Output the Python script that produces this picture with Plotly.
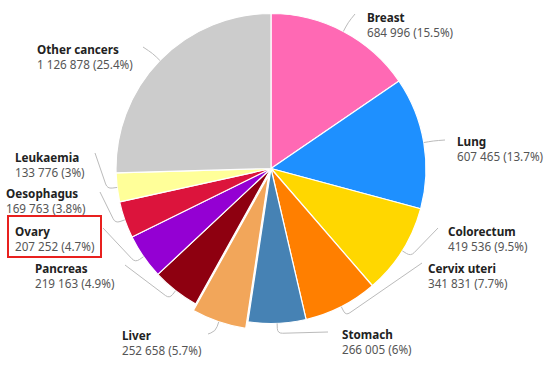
import math
import plotly.graph_objects as go

names = ["Breast", "Lung", "Colorectum", "Cervix uteri", "Stomach", "Liver",
         "Pancreas", "Ovary", "Oesophagus", "Leukaemia", "Other cancers"]
cases = [684996, 607465, 419536, 341831, 266005, 252658,
         219163, 207252, 169763, 133776, 1126878]
colors = ["#FF69B4", "#1E90FF", "#FFD700", "#FF7F00", "#4682B4", "#F2A65A",
          "#8E0010", "#9400D3", "#DC143C", "#FFFF99", "#CCCCCC"]
pulls = [0, 0, 0, 0, 0, 0.045, 0, 0, 0, 0, 0]

# label placement (pixel, left edge of text / top of first line) and leader end
label_pos = {
    "Breast": (366, 8), "Lung": (456, 132), "Colorectum": (447, 222),
    "Cervix uteri": (427, 259), "Stomach": (341, 325), "Liver": (121, 326),
    "Pancreas": (34, 259), "Ovary": (14, 222), "Oesophagus": (5, 184),
    "Leukaemia": (14, 148), "Other cancers": (36, 40),
}
leader_end = {
    "Breast": (355, 14), "Lung": (445, 140), "Colorectum": (438, 228),
    "Cervix uteri": (422, 263), "Stomach": (328, 332), "Liver": (208, 334),
    "Pancreas": (125, 265), "Ovary": (103, 228), "Oesophagus": (100, 192),
    "Leukaemia": (95, 153), "Other cancers": (143, 47),
}

W, H = 555, 371
CX, CY, R = 271, 168.5, 155
maxpull = max(pulls)
half = R * (1 + maxpull)


def px(x, y):
    return x / W, 1 - y / H


def fmt(n):
    return f"{n:,}".replace(",", " ")


total = sum(cases)
fig = go.Figure(go.Pie(
    labels=names, values=cases, sort=False, direction="clockwise", rotation=0,
    marker=dict(colors=colors, line=dict(color="white", width=1.2)),
    pull=pulls, textinfo="none", showlegend=False,
    domain=dict(x=[(CX - half) / W, (CX + half) / W],
                y=[1 - (CY + half) / H, 1 - (CY - half) / H]),
))

annotations = []
shapes = []
cum = 0
for n, v, p in zip(names, cases, pulls):
    pct = round(v / total * 100, 1)
    pct_s = (f"{pct:.1f}").rstrip("0").rstrip(".")
    mid = (cum + v / 2) / total * 2 * math.pi
    cum += v
    rr = R * (1 + p)
    sx, sy = CX + rr * math.sin(mid), CY - rr * math.cos(mid)
    ex, ey = leader_end[n]
    kx, ky = CX + (rr + 10) * math.sin(mid), CY - (rr + 10) * math.cos(mid)
    ax_, ay_ = CX + (rr + 5) * math.sin(mid), CY - (rr + 5) * math.cos(mid)
    dx, dy = ex - kx, ey - ky
    d = math.hypot(dx, dy) or 1
    bx, by = kx + dx / d * 5, ky + dy / d * 5
    pts = [px(sx, sy), px(ax_, ay_), px(kx, ky), px(bx, by), px(ex, ey)]
    path = (f"M {pts[0][0]},{pts[0][1]} L {pts[1][0]},{pts[1][1]} "
            f"Q {pts[2][0]},{pts[2][1]} {pts[3][0]},{pts[3][1]} "
            f"L {pts[4][0]},{pts[4][1]}")
    shapes.append(dict(type="path", xref="paper", yref="paper", path=path,
                       line=dict(color="#BBBBBB", width=1)))
    lx, ly = label_pos[n]
    tx, ty = px(lx, ly)
    annotations.append(dict(
        x=tx, y=ty, xref="paper", yref="paper", xanchor="left", yanchor="top",
        showarrow=False, align="left", borderpad=0,
        text=f"<b>{n}</b><br><span style='color:#555555'>{fmt(v)} ({pct_s}%)</span>",
        font=dict(family="Noto Sans", size=11.7, color="#222222"),
    ))

# red highlight box around Ovary label
bx0, by0 = px(8, 216)
bx1, by1 = px(101, 257)
shapes.append(dict(type="rect", xref="paper", yref="paper",
                   x0=bx0, y0=by1, x1=bx1, y1=by0,
                   line=dict(color="#E8201E", width=2)))

fig.update_layout(
    width=W, height=H, margin=dict(l=0, r=0, t=0, b=0),
    paper_bgcolor="white", plot_bgcolor="white",
    annotations=annotations, shapes=shapes,
)
fig.write_html("out.html", config={"displayModeBar": False},
               post_script="document.body.style.margin='0';document.body.style.overflow='hidden';")
